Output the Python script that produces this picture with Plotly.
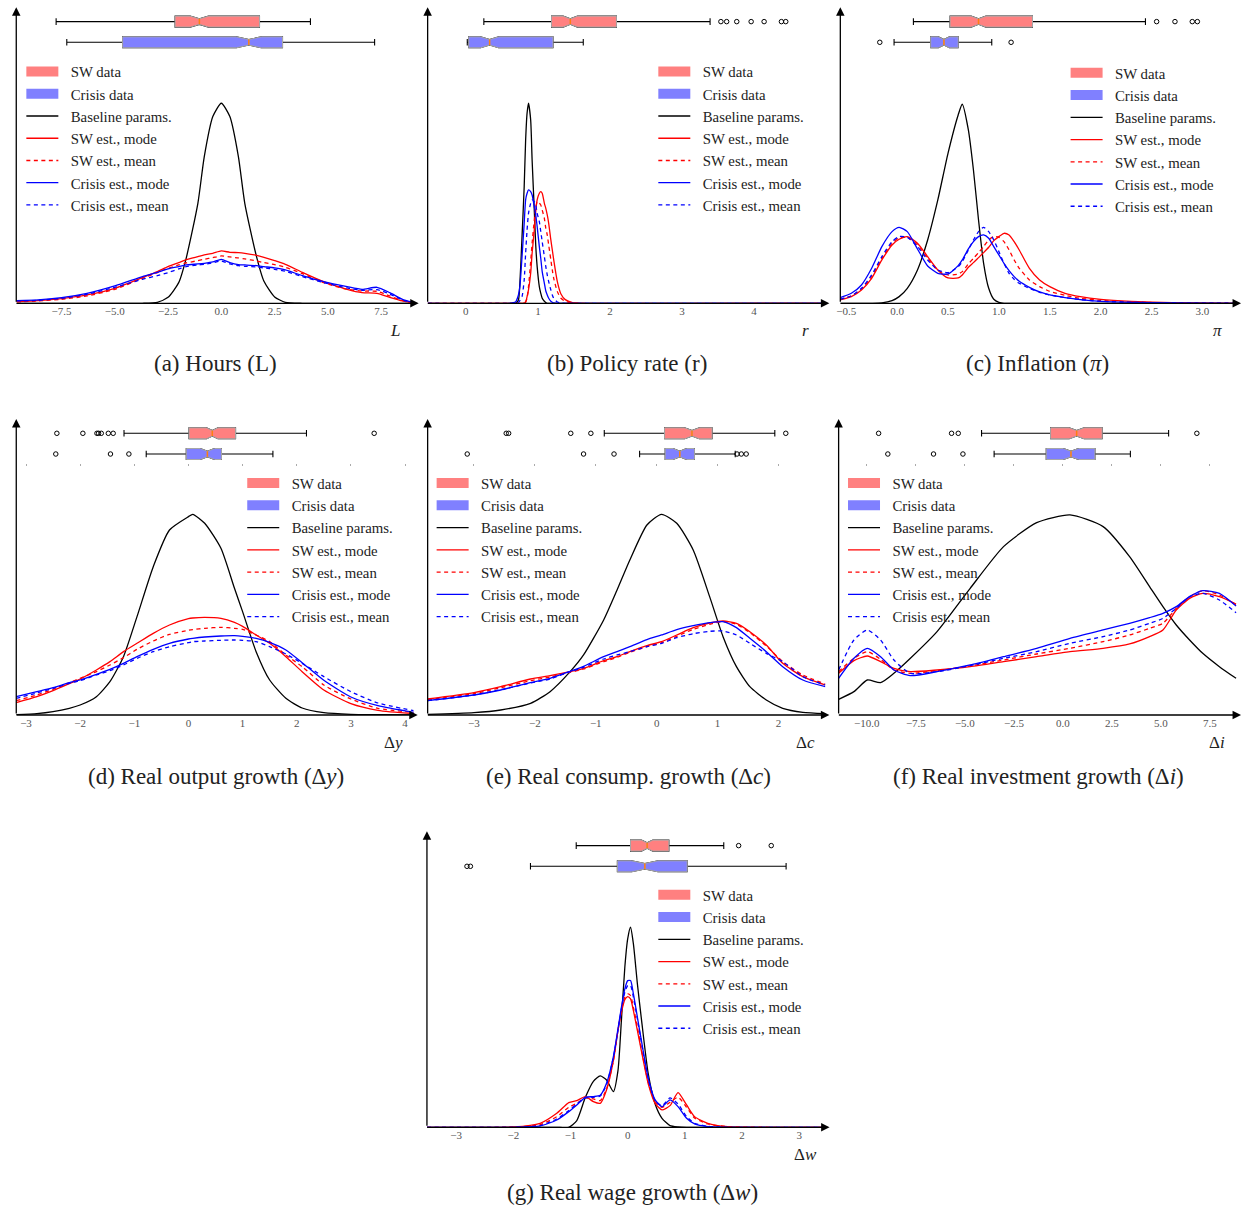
import plotly.graph_objects as go

W, H = 1252, 1207
SERIF = "Liberation Serif, Times New Roman, serif"

# ---------------- data (densities) ----------------
# (a) Hours L
a_x = [-9.6, -8.6, -7.5, -6.3, -5.0, -3.7, -3.0, -2.5, -2.0, -1.65, -1.1, -0.8, -0.4, 0.0, 0.4, 0.8, 1.1,
       1.65, 2.0, 2.5, 3.0, 3.8, 4.8, 5.9, 6.6, 7.3, 7.9, 8.5, 8.9]
a_base = [0, 0, 0, 0, 0, 0, 0.003, 0.018, 0.062, 0.135, 0.300, 0.440, 0.560, 0.600, 0.560, 0.440, 0.300,
          0.140, 0.066, 0.019, 0.003, 0, 0, 0, 0, 0, 0, 0, 0]
a_sw_mode = [0.005, 0.008, 0.014, 0.025, 0.045, 0.077, 0.095, 0.110, 0.122, 0.131, 0.140, 0.145, 0.150, 0.157,
             0.153, 0.152, 0.150, 0.144, 0.138, 0.128, 0.117, 0.093, 0.065, 0.042, 0.032, 0.030, 0.018, 0.007, 0.002]
a_sw_mean = [0.004, 0.007, 0.012, 0.022, 0.042, 0.075, 0.092, 0.105, 0.115, 0.121, 0.128, 0.132, 0.137, 0.142,
             0.139, 0.136, 0.133, 0.127, 0.122, 0.116, 0.108, 0.089, 0.062, 0.042, 0.037, 0.036, 0.022, 0.008, 0.003]
a_cr_mode = [0.008, 0.010, 0.017, 0.030, 0.052, 0.080, 0.093, 0.103, 0.110, 0.115, 0.118, 0.120, 0.124, 0.132,
             0.122, 0.116, 0.115, 0.113, 0.110, 0.106, 0.100, 0.083, 0.065, 0.050, 0.042, 0.048, 0.032, 0.012, 0.004]
a_cr_mean = [0.007, 0.009, 0.015, 0.027, 0.048, 0.072, 0.083, 0.092, 0.103, 0.110, 0.115, 0.117, 0.121, 0.127,
             0.118, 0.113, 0.111, 0.109, 0.106, 0.102, 0.096, 0.080, 0.062, 0.046, 0.039, 0.041, 0.028, 0.010, 0.004]
# box stats: [lower whisker, q1, median, q3, upper whisker, notch half-width]
a_sw_box = [-7.75, -2.17, -1.03, 1.79, 4.18, 0.43]
a_sw_out = []
a_cr_box = [-7.25, -4.63, 1.29, 2.87, 7.19, 0.58]
a_cr_out = []

# (b) Policy rate r
b_x = [-0.53, 0.60, 0.69, 0.73, 0.75, 0.78, 0.81, 0.83, 0.85, 0.87, 0.90, 0.92, 0.95, 0.97, 0.99, 1.02,
       1.04, 1.06, 1.09, 1.11, 1.13, 1.15, 1.18, 1.20, 1.22, 1.27, 1.32, 1.38, 1.48, 1.60, 4.99]
b_base = [0, 0, 0, 0.01, 0.06, 0.20, 0.35, 0.49, 0.57, 0.60, 0.55, 0.43, 0.28, 0.175, 0.11, 0.05,
          0.03, 0.015, 0.006, 0.002, 0, 0, 0, 0, 0, 0, 0, 0, 0, 0, 0]
b_sw_mode = [0, 0, 0, 0, 0, 0, 0.001, 0.003, 0.02, 0.04, 0.09, 0.15, 0.22, 0.275, 0.31, 0.33,
             0.335, 0.33, 0.30, 0.285, 0.265, 0.24, 0.19, 0.16, 0.13, 0.065, 0.028, 0.011, 0.002, 0, 0]
b_sw_mean = [0, 0, 0, 0, 0, 0, 0, 0.005, 0.015, 0.05, 0.125, 0.18, 0.25, 0.285, 0.305, 0.30,
             0.295, 0.28, 0.255, 0.225, 0.205, 0.175, 0.13, 0.10, 0.075, 0.035, 0.015, 0.006, 0.001, 0, 0]
b_cr_mode = [0, 0, 0.004, 0.025, 0.05, 0.14, 0.24, 0.31, 0.33, 0.34, 0.335, 0.325, 0.29, 0.265, 0.23, 0.17,
             0.135, 0.095, 0.06, 0.037, 0.025, 0.015, 0.006, 0.003, 0.001, 0, 0, 0, 0, 0, 0]
b_cr_mean = [0, 0, 0, 0.003, 0.008, 0.02, 0.07, 0.15, 0.22, 0.27, 0.30, 0.31, 0.305, 0.295, 0.27, 0.245,
             0.215, 0.185, 0.14, 0.11, 0.085, 0.065, 0.04, 0.025, 0.015, 0.004, 0.001, 0, 0, 0, 0]
b_sw_box = [0.25, 1.19, 1.45, 2.09, 3.39, 0.10]
b_sw_out = [3.54, 3.62, 3.76, 3.96, 4.14, 4.38, 4.44]
b_cr_box = [0.02, 0.04, 0.33, 1.21, 1.63, 0.125]
b_cr_out = []

# (c) Inflation pi
c_x = [-0.56, -0.45, -0.35, -0.25, -0.15, -0.05, 0.02, 0.1, 0.2, 0.3, 0.4, 0.5, 0.6, 0.64, 0.7, 0.75, 0.8,
       0.85, 0.9, 0.95, 1.0, 1.05, 1.1, 1.15, 1.2, 1.3, 1.4, 1.5, 1.65, 1.8, 2.0, 2.3, 2.7, 3.34]
c_base = [0, 0, 0, 0, 0.001, 0.008, 0.02, 0.045, 0.10, 0.19, 0.31, 0.45, 0.565, 0.597, 0.52, 0.40, 0.25,
          0.12, 0.045, 0.012, 0.003, 0, 0, 0, 0, 0, 0, 0, 0, 0, 0, 0, 0, 0]
c_sw_mode = [0.01, 0.02, 0.04, 0.075, 0.13, 0.175, 0.192, 0.2, 0.18, 0.14, 0.1, 0.076, 0.076, 0.085, 0.108,
             0.122, 0.137, 0.152, 0.168, 0.188, 0.2, 0.21, 0.205, 0.185, 0.16, 0.105, 0.07, 0.05, 0.03, 0.02,
             0.012, 0.006, 0.002, 0]
c_sw_mean = [0.012, 0.022, 0.043, 0.08, 0.135, 0.18, 0.196, 0.198, 0.175, 0.135, 0.1, 0.085, 0.088, 0.095,
             0.118, 0.135, 0.152, 0.17, 0.19, 0.2, 0.198, 0.185, 0.16, 0.13, 0.105, 0.07, 0.05, 0.036, 0.024,
             0.015, 0.009, 0.004, 0.001, 0]
c_cr_mode = [0.017, 0.03, 0.055, 0.105, 0.17, 0.215, 0.228, 0.215, 0.163, 0.112, 0.09, 0.088, 0.113, 0.13,
             0.163, 0.185, 0.2, 0.205, 0.195, 0.17, 0.145, 0.12, 0.098, 0.08, 0.066, 0.048, 0.034, 0.025,
             0.017, 0.011, 0.006, 0.003, 0.001, 0]
c_cr_mean = [0.012, 0.022, 0.045, 0.085, 0.14, 0.185, 0.2, 0.198, 0.17, 0.13, 0.1, 0.092, 0.11, 0.125, 0.16,
             0.19, 0.215, 0.228, 0.215, 0.19, 0.155, 0.12, 0.09, 0.072, 0.06, 0.045, 0.033, 0.025, 0.017,
             0.011, 0.006, 0.003, 0.001, 0]
c_sw_box = [0.16, 0.52, 0.80, 1.33, 2.44, 0.073]
c_sw_out = [2.55, 2.73, 2.90, 2.95]
c_cr_box = [-0.03, 0.33, 0.46, 0.60, 0.93, 0.054]
c_cr_out = [-0.17, 1.12]

# (d) Real output growth dy
d_x = [-3.18, -2.8, -2.5, -2.2, -2.0, -1.7, -1.45, -1.2, -0.95, -0.65, -0.35, 0.0, 0.08, 0.3, 0.6, 0.85,
       1.0, 1.25, 1.5, 1.8, 2.1, 2.5, 3.0, 3.5, 4.16]
d_base = [0.001, 0.004, 0.01, 0.02, 0.03, 0.055, 0.10, 0.175, 0.295, 0.445, 0.555, 0.595, 0.602, 0.575,
          0.50, 0.38, 0.31, 0.19, 0.105, 0.05, 0.021, 0.007, 0.002, 0.001, 0]
d_sw_mode = [0.037, 0.055, 0.073, 0.094, 0.108, 0.135, 0.16, 0.19, 0.215, 0.245, 0.27, 0.289, 0.291, 0.293,
             0.29, 0.278, 0.266, 0.24, 0.215, 0.175, 0.13, 0.075, 0.034, 0.014, 0.004]
d_sw_mean = [0.043, 0.06, 0.077, 0.097, 0.11, 0.13, 0.15, 0.172, 0.197, 0.222, 0.242, 0.254, 0.256, 0.26,
             0.263, 0.26, 0.257, 0.24, 0.22, 0.18, 0.145, 0.09, 0.048, 0.02, 0.008]
d_cr_mode = [0.055, 0.07, 0.082, 0.097, 0.105, 0.122, 0.137, 0.155, 0.175, 0.197, 0.215, 0.228, 0.23, 0.234,
             0.237, 0.238, 0.236, 0.23, 0.218, 0.195, 0.157, 0.104, 0.054, 0.028, 0.008]
d_cr_mean = [0.05, 0.066, 0.08, 0.095, 0.103, 0.12, 0.133, 0.15, 0.17, 0.19, 0.205, 0.217, 0.22, 0.222,
             0.224, 0.225, 0.224, 0.22, 0.205, 0.183, 0.155, 0.115, 0.07, 0.036, 0.013]
d_sw_box = [-1.19, 0.01, 0.44, 0.87, 2.18, 0.105]
d_sw_out = [-2.43, -1.95, -1.69, -1.66, -1.61, -1.48, -1.39, 3.43]
d_cr_box = [-0.78, -0.04, 0.35, 0.61, 1.56, 0.13]
d_cr_out = [-2.45, -1.44, -1.10]

# (e) Real consumption growth dc
e_x = [-3.76, -3.0, -2.56, -2.07, -1.75, -1.42, -1.2, -0.87, -0.65, -0.44, -0.16, 0.08, 0.33, 0.6, 0.87,
       1.09, 1.31, 1.53, 1.8, 2.07, 2.4, 2.77]
e_base = [0.002, 0.007, 0.015, 0.035, 0.07, 0.13, 0.18, 0.285, 0.375, 0.465, 0.57, 0.602, 0.575, 0.495,
          0.355, 0.235, 0.145, 0.085, 0.045, 0.02, 0.008, 0.004]
e_sw_mode = [0.048, 0.067, 0.085, 0.108, 0.118, 0.13, 0.14, 0.163, 0.175, 0.19, 0.208, 0.22, 0.24, 0.262,
             0.276, 0.282, 0.275, 0.25, 0.21, 0.155, 0.115, 0.09]
e_sw_mean = [0.046, 0.064, 0.082, 0.103, 0.114, 0.128, 0.138, 0.16, 0.173, 0.188, 0.205, 0.217, 0.236, 0.257,
             0.272, 0.28, 0.272, 0.247, 0.207, 0.16, 0.12, 0.093]
e_cr_mode = [0.043, 0.06, 0.075, 0.097, 0.11, 0.131, 0.146, 0.175, 0.19, 0.205, 0.226, 0.24, 0.256, 0.268,
             0.277, 0.28, 0.262, 0.23, 0.19, 0.145, 0.105, 0.085]
e_cr_mean = [0.043, 0.06, 0.076, 0.096, 0.108, 0.13, 0.143, 0.168, 0.18, 0.19, 0.205, 0.215, 0.232, 0.244,
             0.251, 0.252, 0.24, 0.215, 0.185, 0.16, 0.115, 0.09]
e_sw_box = [-0.86, 0.13, 0.58, 0.91, 1.94, 0.12]
e_sw_out = [-2.47, -2.43, -1.41, -1.08, 2.12]
e_cr_box = [-0.28, 0.14, 0.38, 0.62, 1.29, 0.11]
e_cr_out = [-3.11, -1.20, -0.70, 1.32, 1.39, 1.47]

# (f) Real investment growth di
f_x = [-11.44, -10.66, -9.98, -9.3, -8.62, -7.78, -6.42, -4.73, -3.03, -1.34, 0.36, 2.05, 3.4, 4.42, 5.1,
       5.78, 6.46, 7.13, 7.98, 8.83]
f_base = [0.047, 0.07, 0.105, 0.097, 0.125, 0.17, 0.25, 0.38, 0.505, 0.577, 0.6, 0.565, 0.475, 0.385, 0.325,
          0.27, 0.225, 0.185, 0.145, 0.11]
f_sw_mode = [0.125, 0.163, 0.177, 0.16, 0.14, 0.13, 0.135, 0.145, 0.16, 0.175, 0.19, 0.20, 0.213, 0.235,
             0.255, 0.315, 0.35, 0.365, 0.355, 0.333]
f_sw_mean = [0.13, 0.17, 0.19, 0.167, 0.135, 0.125, 0.133, 0.147, 0.165, 0.183, 0.20, 0.22, 0.24, 0.26,
             0.275, 0.32, 0.355, 0.373, 0.36, 0.33]
f_cr_mode = [0.11, 0.17, 0.20, 0.175, 0.135, 0.118, 0.13, 0.15, 0.175, 0.20, 0.23, 0.255, 0.275, 0.292,
             0.305, 0.325, 0.355, 0.373, 0.365, 0.327]
f_cr_mean = [0.135, 0.225, 0.255, 0.225, 0.165, 0.125, 0.13, 0.148, 0.17, 0.19, 0.215, 0.235, 0.255, 0.275,
             0.29, 0.32, 0.355, 0.365, 0.345, 0.307]
f_sw_box = [-4.15, -0.63, 0.70, 2.00, 5.39, 0.38]
f_sw_out = [-9.40, -5.68, -5.34, 6.83]
f_cr_box = [-3.51, -0.85, 0.41, 1.63, 3.44, 0.38]
f_cr_out = [-8.93, -6.60, -5.10]

# (g) Real wage growth dw
g_x = [-3.51, -2.0, -1.53, -1.24, -1.03, -0.89, -0.74, -0.6, -0.48, -0.37, -0.25, -0.17, -0.11, -0.05, 0.0,
       0.05, 0.1, 0.17, 0.25, 0.36, 0.48, 0.6, 0.74, 0.88, 1.03, 1.17, 1.4, 1.75, 3.46]
g_base = [0, 0, 0, 0, 0, 0.02, 0.09, 0.138, 0.154, 0.142, 0.107, 0.17, 0.32, 0.48, 0.565,
          0.60, 0.55, 0.43, 0.31, 0.16, 0.07, 0.027, 0.005, 0.001, 0, 0, 0, 0, 0]
g_sw_mode = [0, 0.001, 0.012, 0.042, 0.074, 0.08, 0.092, 0.077, 0.072, 0.112, 0.2, 0.29, 0.345, 0.383, 0.392,
             0.385, 0.35, 0.29, 0.22, 0.13, 0.072, 0.052, 0.065, 0.104, 0.067, 0.032, 0.012, 0.002, 0]
g_sw_mean = [0, 0.001, 0.008, 0.032, 0.06, 0.072, 0.088, 0.085, 0.08, 0.115, 0.2, 0.29, 0.35, 0.39, 0.40,
             0.395, 0.36, 0.30, 0.225, 0.135, 0.077, 0.06, 0.075, 0.09, 0.06, 0.028, 0.01, 0.002, 0]
g_cr_mode = [0, 0, 0.004, 0.022, 0.047, 0.067, 0.09, 0.092, 0.096, 0.132, 0.212, 0.295, 0.36, 0.415, 0.44,
             0.44, 0.4, 0.33, 0.25, 0.147, 0.082, 0.062, 0.082, 0.062, 0.027, 0.01, 0.002, 0, 0]
g_cr_mean = [0, 0, 0.005, 0.025, 0.05, 0.07, 0.088, 0.09, 0.094, 0.128, 0.21, 0.29, 0.355, 0.405, 0.425,
             0.425, 0.39, 0.325, 0.245, 0.145, 0.08, 0.065, 0.088, 0.07, 0.032, 0.012, 0.003, 0, 0]
g_sw_box = [-0.90, 0.05, 0.34, 0.72, 1.68, 0.10]
g_sw_out = [1.94, 2.51]
g_cr_box = [-1.70, -0.18, 0.30, 1.04, 2.77, 0.23]
g_cr_out = [-2.81, -2.75]

legend_names = ["SW data", "Crisis data", "Baseline params.", "SW est., mode", "SW est., mean",
                "Crisis est., mode", "Crisis est., mean"]

# ---------------- panel configuration ----------------
panels = [
    dict(x=a_x, base=a_base, sw_mode=a_sw_mode, sw_mean=a_sw_mean, cr_mode=a_cr_mode, cr_mean=a_cr_mean,
         sw_box=a_sw_box, sw_out=a_sw_out, cr_box=a_cr_box, cr_out=a_cr_out,
         geom=(12.3, 412.0, 303.3), xr=(-9.62, 9.07), dtick=2.5, fmt=".1f", dots=False,
         label="<i>L</i>", caption="(a) Hours (L)", cap=(212.5, 363), leg=(26.7, 72.7)),
    dict(x=b_x, base=b_base, sw_mode=b_sw_mode, sw_mean=b_sw_mean, cr_mode=b_cr_mode, cr_mean=b_cr_mean,
         sw_box=b_sw_box, sw_out=b_sw_out, cr_box=b_cr_box, cr_out=b_cr_out,
         geom=(425.0, 824.0, 303.3), xr=(-0.53, 4.99), dtick=1, fmt="d", dots=False,
         label="<i>r</i>", caption="(b) Policy rate (r)", cap=(624.5, 363), leg=(660.7, 72.7)),
    dict(x=c_x, base=c_base, sw_mode=c_sw_mode, sw_mean=c_sw_mean, cr_mode=c_cr_mode, cr_mean=c_cr_mean,
         sw_box=c_sw_box, sw_out=c_sw_out, cr_box=c_cr_box, cr_out=c_cr_out,
         geom=(839.0, 1237.0, 303.3), xr=(-0.558, 3.34), dtick=0.5, fmt=".1f", dots=False,
         label="<i>π</i>", caption="(c) Inflation (<i>π</i>)", cap=(1037, 363), leg=(1074.3, 74.0)),
    dict(x=d_x, base=d_base, sw_mode=d_sw_mode, sw_mean=d_sw_mean, cr_mode=d_cr_mode, cr_mean=d_cr_mean,
         sw_box=d_sw_box, sw_out=d_sw_out, cr_box=d_cr_box, cr_out=d_cr_out,
         geom=(12.3, 411.0, 715.0), xr=(-3.18, 4.16), dtick=1, fmt="d", dots=True,
         label="Δ<i>y</i>", caption="(d) Real output growth (Δ<i>y</i>)", cap=(212.5, 776), leg=(248.3, 484.3)),
    dict(x=e_x, base=e_base, sw_mode=e_sw_mode, sw_mean=e_sw_mean, cr_mode=e_cr_mode, cr_mean=e_cr_mean,
         sw_box=e_sw_box, sw_out=e_sw_out, cr_box=e_cr_box, cr_out=e_cr_out,
         geom=(425.0, 824.0, 715.0), xr=(-3.76, 2.77), dtick=1, fmt="d", dots=True,
         label="Δ<i>c</i>", caption="(e) Real consump. growth (Δ<i>c</i>)", cap=(626, 776), leg=(438.3, 484.3)),
    dict(x=f_x, base=f_base, sw_mode=f_sw_mode, sw_mean=f_sw_mean, cr_mode=f_cr_mode, cr_mean=f_cr_mean,
         sw_box=f_sw_box, sw_out=f_sw_out, cr_box=f_cr_box, cr_out=f_cr_out,
         geom=(837.3, 1237.0, 715.0), xr=(-11.44, 8.88), dtick=2.5, fmt=".1f", dots=True,
         label="Δ<i>i</i>", caption="(f) Real investment growth (Δ<i>i</i>)", cap=(1037.5, 776), leg=(851.0, 484.3)),
    dict(x=g_x, base=g_base, sw_mode=g_sw_mode, sw_mean=g_sw_mean, cr_mode=g_cr_mode, cr_mean=g_cr_mean,
         sw_box=g_sw_box, sw_out=g_sw_out, cr_box=g_cr_box, cr_out=g_cr_out,
         geom=(424.3, 824.2, 1127.3), xr=(-3.51, 3.46), dtick=1, fmt="d", dots=False,
         label="Δ<i>w</i>", caption="(g) Real wage growth (Δ<i>w</i>)", cap=(630.5, 1192), leg=(660.7, 896.0)),
]

RED, BLUE = "#ff0000", "#0000ff"
SW_FILL, CR_FILL = "#ff8080", "#8080ff"
DASH = "4px,3.5px"
DENS_H, AX_H = 251.7, 292.0
DENS_RANGE = [0, 0.755]
BOX_RANGE = [0.551, 2.498]
BOX_W = 0.53
NB = "\u00a0\u00a0"

fig = go.Figure()
layout = dict(width=W, height=H, margin=dict(l=0, r=0, t=0, b=0), paper_bgcolor="white",
              plot_bgcolor="rgba(0,0,0,0)", boxmode="overlay", showlegend=True,
              font=dict(family=SERIF, color="#222"))
annotations = []

for i, p in enumerate(panels, start=1):
    sfx = "" if i == 1 else str(i)
    xref, yref, ybref = "x" + sfx, "y" + sfx, "y" + str(i + 7)
    leg = "legend" + sfx
    X0, X1, Y0 = p["geom"]

    layout["xaxis" + sfx] = dict(domain=[X0 / W, X1 / W], range=list(p["xr"]), anchor=yref,
                                 showgrid=False, zeroline=False, showline=False, ticks="",
                                 dtick=p["dtick"], tick0=0, tickformat=p["fmt"],
                                 tickfont=dict(family=SERIF, size=11, color="#555"))
    layout["yaxis" + sfx] = dict(domain=[1 - Y0 / H, 1 - (Y0 - DENS_H) / H], range=DENS_RANGE,
                                 anchor=xref, visible=False)
    layout["yaxis" + str(i + 7)] = dict(domain=[1 - (Y0 - DENS_H) / H, 1 - (Y0 - AX_H) / H],
                                        range=BOX_RANGE, anchor=xref, visible=False)
    if p["dots"]:
        # faint tick marks of the box-plot axes (bottom of box area)
        layout["xaxis" + str(i + 7)] = dict(domain=[X0 / W, X1 / W], range=list(p["xr"]),
                                            anchor="y" + str(i + 7), matches=xref, showgrid=False,
                                            zeroline=False, showline=False, ticks="outside", ticklen=1.5,
                                            tickwidth=1, tickcolor="#aaa", dtick=p["dtick"], tick0=0,
                                            showticklabels=False)
    lx, ly = p["leg"]
    layout[leg] = dict(x=(lx - 9.3) / W, y=1 - (ly - 17.3) / H, xanchor="left", yanchor="top",
                       bgcolor="rgba(0,0,0,0)", borderwidth=0, itemwidth=32, tracegroupgap=0,
                       traceorder="normal", font=dict(family=SERIF, size=14.8, color="#222"))

    # legend patches for the data boxes
    for name, fc in ((legend_names[0], SW_FILL), (legend_names[1], CR_FILL)):
        fig.add_trace(go.Scatter(x=[None], y=[None], mode="lines", line=dict(color=fc, width=12),
                                 name=NB + name, legend=leg, xaxis=xref, yaxis=yref, hoverinfo="skip"))
    # density curves
    series = [(legend_names[2], p["base"], "black", "solid"),
              (legend_names[3], p["sw_mode"], RED, "solid"),
              (legend_names[4], p["sw_mean"], RED, DASH),
              (legend_names[5], p["cr_mode"], BLUE, "solid"),
              (legend_names[6], p["cr_mean"], BLUE, DASH)]
    for name, ys, col, dash in series:
        fig.add_trace(go.Scatter(x=p["x"], y=ys, mode="lines", name=NB + name, legend=leg,
                                 line=dict(color=col, width=1.3, dash=dash, shape="spline", smoothing=0.6),
                                 xaxis=xref, yaxis=yref, hoverinfo="skip"))
    if p["dots"]:
        fig.add_trace(go.Scatter(x=[None], y=[None], xaxis="x" + str(i + 7), yaxis="y" + str(i + 7),
                                 showlegend=False, hoverinfo="skip"))
    # box plots (SW at position 2, crisis at position 1)
    for stats, outs, pos, fc in ((p["sw_box"], p["sw_out"], 2, SW_FILL), (p["cr_box"], p["cr_out"], 1, CR_FILL)):
        lo, q1, med, q3, hi, nh = stats
        fig.add_trace(go.Box(orientation="h", y=[pos], q1=[q1], median=[med], q3=[q3],
                             lowerfence=[lo], upperfence=[hi], notched=True, notchspan=[nh],
                             width=BOX_W, fillcolor=fc, line=dict(color="black", width=1.1),
                             whiskerwidth=0.6, boxpoints=False, showlegend=False,
                             xaxis=xref, yaxis=ybref, hoverinfo="skip"))
        fig.add_trace(go.Box(orientation="h", y=[pos], q1=[q1], median=[med], q3=[q3],
                             lowerfence=[q1], upperfence=[q3], notched=True, notchspan=[nh],
                             width=BOX_W, fillcolor=fc, line=dict(color="#a8a8a8", width=1),
                             whiskerwidth=0, boxpoints=False, showlegend=False,
                             xaxis=xref, yaxis=ybref, hoverinfo="skip"))
        fig.add_trace(go.Scatter(x=[med, med], y=[pos - BOX_W / 4, pos + BOX_W / 4], mode="lines",
                                 line=dict(color="#ff7f0e", width=1.5), showlegend=False,
                                 xaxis=xref, yaxis=ybref, hoverinfo="skip"))
        if outs:
            fig.add_trace(go.Scatter(x=outs, y=[pos] * len(outs), mode="markers", showlegend=False,
                                     marker=dict(symbol="circle-open", size=4.5, color="black",
                                                 line=dict(width=1)),
                                     xaxis=xref, yaxis=ybref, hoverinfo="skip"))

    # axis lines with arrow heads
    annotations.append(dict(x=(X1 + 4) / W, y=1 - Y0 / H, xref="paper", yref="paper", text="",
                            showarrow=True, ax=-(X1 + 4 - X0), ay=0, arrowhead=2, arrowsize=1.3,
                            arrowwidth=1.3, arrowcolor="black", standoff=0))
    annotations.append(dict(x=X0 / W, y=1 - (Y0 - 296) / H, xref="paper", yref="paper", text="",
                            showarrow=True, ax=0, ay=296, arrowhead=2, arrowsize=1.3,
                            arrowwidth=1.3, arrowcolor="black", standoff=0))
    # axis label and caption
    annotations.append(dict(x=(X1 - 20) / W, y=1 - (Y0 + 27) / H, xref="paper", yref="paper",
                            xanchor="center", yanchor="middle", text=p["label"], showarrow=False,
                            font=dict(family=SERIF, size=17, color="#222")))
    annotations.append(dict(x=p["cap"][0] / W, y=1 - p["cap"][1] / H, xref="paper", yref="paper",
                            xanchor="center", yanchor="middle", text=p["caption"], showarrow=False,
                            font=dict(family=SERIF, size=23, color="#222")))

layout["annotations"] = annotations
fig.update_layout(**layout)
fig.write_html("out.html", config={"displayModeBar": False, "staticPlot": True},
               post_script="document.body.style.margin='0';document.body.style.overflow='hidden';")
